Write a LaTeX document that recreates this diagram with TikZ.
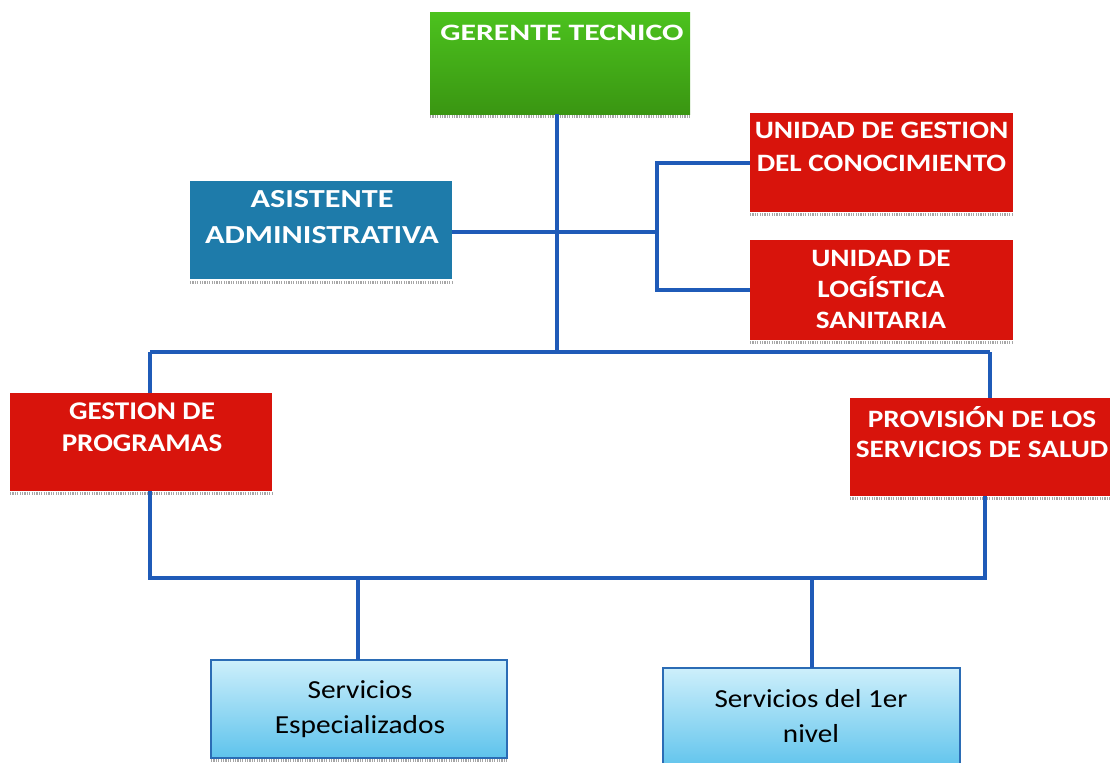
\documentclass[tikz,border=0pt]{standalone}
\usepackage{fontspec}
\setmainfont{Carlito}
\begin{document}
\begin{tikzpicture}[x=1pt,y=-1pt,
  box/.style={draw=none,minimum width=#1,inner sep=0pt,outer sep=0pt},
  wtext/.style={text=white,align=center,inner sep=0pt},
  btext/.style={text=black,align=center,inner sep=0pt},
  link/.style={draw=linkblue,line width=4pt},
  bshadow/.style={draw=gray!70,line width=3pt,dash pattern=on 1.2pt off 1.2pt}
]
\definecolor{redtop}{HTML}{D8140C}
\definecolor{greentop}{HTML}{4CC21E}
\definecolor{greenbot}{HTML}{3A9612}
\definecolor{asblue}{HTML}{1E7BAA}
\definecolor{lbtop}{HTML}{CDEFFB}
\definecolor{lbbot}{HTML}{5EC3EC}
\definecolor{lbborder}{HTML}{2B6CB5}
\definecolor{linkblue}{HTML}{1F5BB8}
\useasboundingbox (0,0) rectangle (1114,763);
\fill[white] (0,0) rectangle (1114,763);

\coordinate (j1) at (557,352);
\coordinate (j2) at (557,232);
\coordinate (b1) at (657,163);
\coordinate (b2) at (657,290);
\coordinate (b3) at (657,232);
\coordinate (h1) at (150,352);
\coordinate (h2) at (990,352);
\coordinate (l1) at (150,578);
\coordinate (l2) at (985,578);
\coordinate (d1) at (358,578);
\coordinate (d2) at (812,578);

% boxes
\path[top color=greentop,bottom color=greenbot] (430,12) rectangle (690,114);
\node[box=260,minimum height=102] (ger) at (560,63) {};
\fill[asblue] (190,181) rectangle (452,279);
\node[box=262,minimum height=98] (asi) at (321,230) {};
\fill[redtop] (750,113) rectangle (1013,212);
\node[box=263,minimum height=99] (ugc) at (881.5,162.5) {};
\fill[redtop] (750,240) rectangle (1013,340);
\node[box=263,minimum height=100] (uls) at (881.5,290) {};
\fill[redtop] (10,393) rectangle (272,491);
\node[box=262,minimum height=98] (gpr) at (141,442) {};
\fill[redtop] (850,398) rectangle (1110,496);
\node[box=260,minimum height=98] (pss) at (980,447) {};
\path[top color=lbtop,bottom color=lbbot] (211,660) rectangle (507,758);
\draw[lbborder,line width=1.5pt] (211,660) rectangle (507,758);
\node[box=296,minimum height=98] (sesp) at (359,709) {};
\path[top color=lbtop,bottom color=lbbot] (663,668) rectangle (960,770);
\draw[lbborder,line width=1.5pt] (663,668) rectangle (960,770);
\node[box=297,minimum height=102] (snv) at (811.5,719) {};

% shadows under boxes
\foreach \a/\b/\y in {430/690/116, 190/452/282, 750/1013/214, 750/1013/342, 10/272/493, 850/1110/498, 211/507/760}
  \draw[bshadow] (\a,\y) -- (\b,\y);

% connectors
\draw[link] (ger.south -| j1) -- (j1);
\draw[link] (asi.east |- j2) -- (b3);
\draw[link] (ugc.west |- b1) -- (b1) -- (b2) -- (uls.west |- b2);
\draw[link] (h1) -- (h2);
\draw[link] (h1) -- (gpr.north -| h1);
\draw[link] (h2) -- (pss.north -| h2);
\draw[link] (gpr.south -| l1) -- (l1) -- (l2) -- (pss.south -| l2);
\draw[link] (d1) -- (sesp.north -| d1);
\draw[link] (d2) -- (snv.north -| d2);

% texts
\node[wtext,font=\bfseries\fontsize{23.5}{30}\selectfont\addfontfeatures{FakeStretch=1.35}] (tger) at (562,33) {GERENTE TECNICO};
\node[wtext,font=\bfseries\fontsize{26}{36}\selectfont\addfontfeatures{FakeStretch=1.24}] (tasi) at (322,217) {ASISTENTE\\ADMINISTRATIVA};
\node[wtext,font=\bfseries\fontsize{25}{33}\selectfont\addfontfeatures{FakeStretch=1.17}] (tugc) at (881.5,146.8) {UNIDAD DE GESTION\\DEL CONOCIMIENTO};
\node[wtext,font=\bfseries\fontsize{25}{31}\selectfont\addfontfeatures{FakeStretch=1.17}] (tuls) at (881,289) {UNIDAD DE\\LOGÍSTICA\\SANITARIA};
\node[wtext,font=\bfseries\fontsize{25.5}{32.5}\selectfont\addfontfeatures{FakeStretch=1.14}] (tgpr) at (142,427) {GESTION DE\\PROGRAMAS};
\node[wtext,font=\bfseries\fontsize{25}{30.5}\selectfont\addfontfeatures{FakeStretch=1.17}] (tpss) at (982,432) {PROVISIÓN DE LOS\\SERVICIOS DE SALUD};
\node[btext,font=\fontsize{26}{34.5}\selectfont\addfontfeatures{FakeStretch=1.13}] (tsesp) at (360,709) {Servicios\\Especializados};
\node[btext,font=\fontsize{26}{35.5}\selectfont\addfontfeatures{FakeStretch=1.12}] (tsnv) at (811,716) {Servicios del 1er\\nivel};
\end{tikzpicture}
\end{document}
